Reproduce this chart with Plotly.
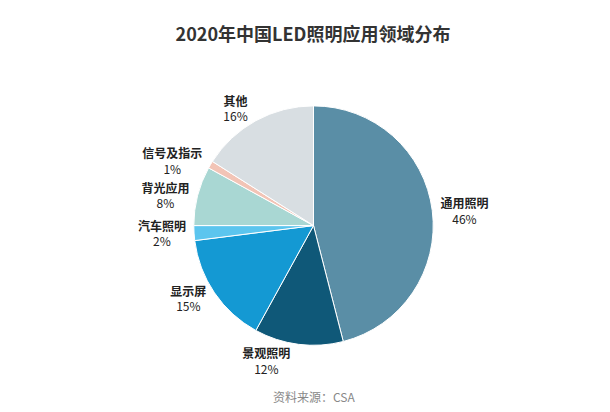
import plotly.graph_objects as go

categories = ["通用照明", "景观照明", "显示屏", "汽车照明", "背光应用", "信号及指示", "其他"]
values = [46, 12, 15, 2, 8, 1, 16]
colors = ["#5a8ea6", "#0f5878", "#1499d3", "#5cc5ee", "#a9d7d3", "#f2c4b6", "#d8dee2"]

fig = go.Figure(go.Pie(
    labels=categories, values=values, sort=False, direction="clockwise", rotation=0,
    marker=dict(colors=colors, line=dict(color="white", width=1)),
    texttemplate="<b>%{label}</b><br>%{value}%", textposition="outside",
    textfont=dict(family="Noto Sans CJK SC", size=12, color="#222"),
    showlegend=False, domain=dict(x=[0.15, 0.85], y=[0.16, 0.86]),
))
fig.update_layout(
    width=610, height=412, paper_bgcolor="white", margin=dict(l=10, r=10, t=50, b=20),
    title=dict(text="<b>2020年中国LED照明应用领域分布</b>", x=0.5, y=0.95, xanchor="center",
               font=dict(family="Noto Sans CJK SC", size=18, color="#333")),
    annotations=[dict(text="资料来源：CSA", x=0.5, y=-0.02, xref="paper", yref="paper", yanchor="bottom",
                      showarrow=False, font=dict(family="Noto Sans CJK SC", size=12, color="#888"))],
)
fig.write_html("out.html")
